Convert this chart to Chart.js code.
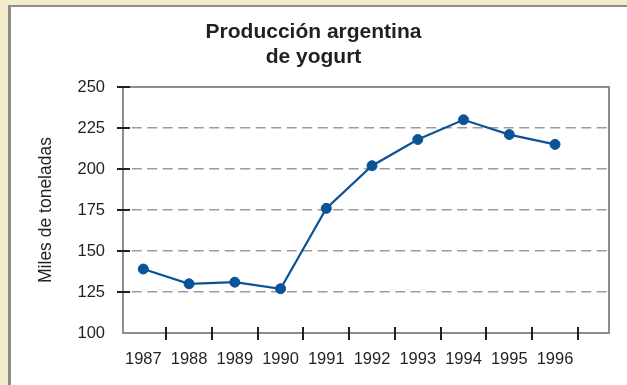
<!DOCTYPE html>
<html lang="es">
<head>
<meta charset="utf-8">
<title>Producción argentina de yogurt</title>
<script src="https://cdn.jsdelivr.net/npm/chart.js@4/dist/chart.umd.min.js"></script>
<style>
  html, body { margin: 0; padding: 0; }
  body { width: 627px; height: 385px; background: #f3ecca; position: relative; overflow: hidden; }
  #panel {
    position: absolute; left: 8px; top: 5px; right: -10px; bottom: -10px;
    background: #ffffff; border-left: 3px solid #8c8c8c; border-top: 2px solid #8c8c8c;
  }
  #wrap { position: absolute; left: 0; top: 0; width: 627px; height: 385px; }
</style>
</head>
<body>
<div id="panel"></div>
<div id="wrap"><canvas id="chart" width="627" height="385"></canvas></div>
<script>
// Annual yogurt production in Argentina (thousand tonnes)
const years = [1987, 1988, 1989, 1990, 1991, 1992, 1993, 1994, 1995, 1996];
const production = [139, 130, 131, 127, 176, 202, 218, 230, 221, 215];
const yTicks = [100, 125, 150, 175, 200, 225, 250];
const titleLines = ['Producción argentina', 'de yogurt'];
const yAxisTitle = 'Miles de toneladas';

const BLUE = '#0b5396';
const INK = '#231f20';
const FRAME = '#8c8c8c';
const SANS = '"Liberation Sans", Arial, sans-serif';

// Plot frame plus tick marks that cross the axes
const frameAndTicks = {
  id: 'frameAndTicks',
  beforeDatasetsDraw(chart) {
    const { ctx, chartArea: a, scales: { x, y } } = chart;
    ctx.save();
    ctx.strokeStyle = FRAME;
    ctx.lineWidth = 2;
    ctx.strokeRect(a.left, a.top, a.right - a.left, a.bottom - a.top);
    ctx.strokeStyle = INK;
    ctx.lineWidth = 2;
    ctx.beginPath();
    yTicks.filter(v => v > yTicks[0]).forEach(v => {
      const py = Math.round(y.getPixelForValue(v));
      ctx.moveTo(a.left - 6, py);
      ctx.lineTo(a.left + 7, py);
    });
    years.forEach(yr => {
      const px = Math.round(x.getPixelForValue(yr + 0.5));
      ctx.moveTo(px, a.bottom - 6);
      ctx.lineTo(px, a.bottom + 7);
    });
    ctx.stroke();
    ctx.restore();
  }
};

new Chart(document.getElementById('chart'), {
  type: 'line',
  data: {
    datasets: [{
      data: years.map((yr, i) => ({ x: yr, y: production[i] })),
      borderColor: BLUE,
      backgroundColor: BLUE,
      borderWidth: 2.2,
      pointRadius: 5,
      pointBackgroundColor: BLUE,
      pointBorderColor: BLUE,
      pointBorderWidth: 1,
      tension: 0,
      clip: false
    }]
  },
  options: {
    responsive: false,
    animation: false,
    layout: { padding: { left: 18, right: 18, top: 0, bottom: 0 } },
    plugins: {
      legend: { display: false },
      tooltip: { enabled: false },
      title: {
        display: true,
        text: titleLines,
        color: INK,
        font: { family: SANS, size: 21, weight: 'bold', lineHeight: 1.224 },
        padding: { top: 19, bottom: 16.6 }
      }
    },
    scales: {
      x: {
        type: 'linear',
        min: 1986.556,
        max: 1997.18,
        afterBuildTicks: (scale) => { scale.ticks = years.map(v => ({ value: v })); },
        afterFit: (scale) => { scale.height = 52; },
        grid: { display: false },
        border: { display: false },
        ticks: {
          color: INK,
          padding: 9,
          autoSkip: false,
          maxRotation: 0,
          font: { family: SANS, size: 16.5 },
          callback: (v) => String(v)
        }
      },
      y: {
        min: 100,
        max: 250,
        afterBuildTicks: (scale) => { scale.ticks = yTicks.map(v => ({ value: v })); },
        afterFit: (scale) => { scale.width = 105; },
        grid: {
          drawTicks: false,
          lineWidth: 1.5,
          color: (c) => (c.tick && (c.tick.value === 100 || c.tick.value === 250)) ? 'rgba(0,0,0,0)' : '#9b9b9b'
        },
        border: { display: false, dash: [10, 5.5], dashOffset: 6.8 },
        ticks: {
          color: INK,
          padding: 18,
          font: { family: SANS, size: 16.5 }
        },
        title: {
          display: true,
          text: yAxisTitle,
          color: INK,
          font: { family: SANS, size: 17.5, lineHeight: 1.2 },
          padding: { top: 17.5, bottom: 0 }
        }
      }
    }
  },
  plugins: [frameAndTicks]
});
</script>
</body>
</html>
